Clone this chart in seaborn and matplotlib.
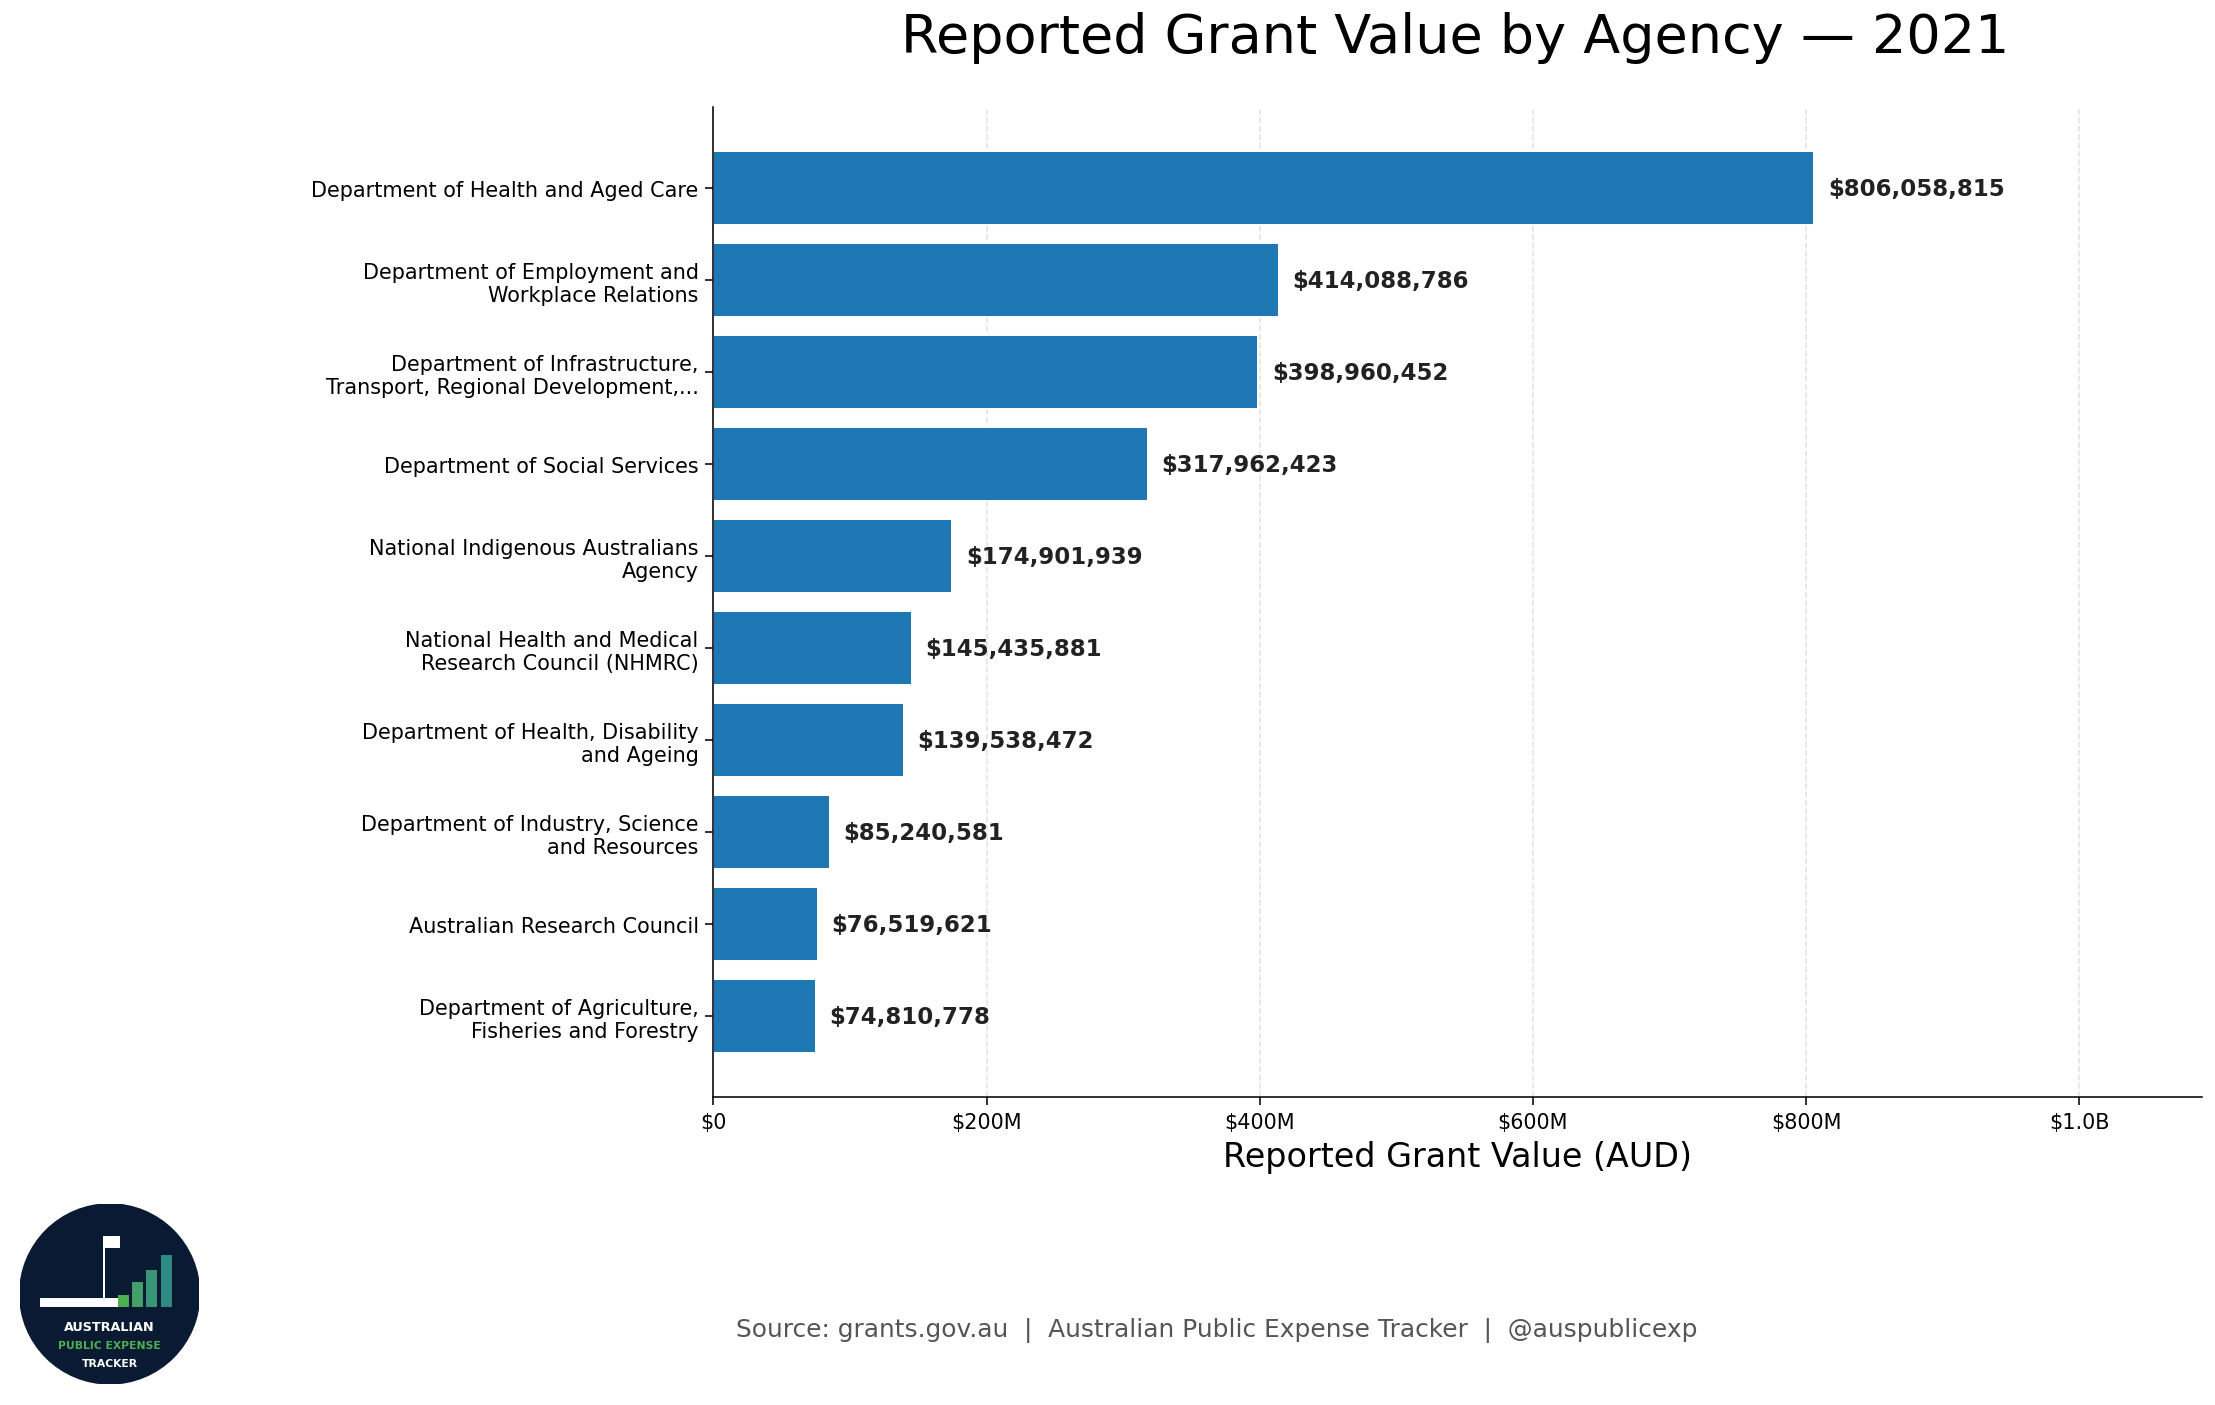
import matplotlib
matplotlib.use("Agg")
import matplotlib.pyplot as plt
import seaborn as sns
import pandas as pd
from matplotlib.patches import Circle, Rectangle

agencies = ["Department of Health and Aged Care",
            "Department of Employment and\nWorkplace Relations",
            "Department of Infrastructure,\nTransport, Regional Development,...",
            "Department of Social Services",
            "National Indigenous Australians\nAgency",
            "National Health and Medical\nResearch Council (NHMRC)",
            "Department of Health, Disability\nand Ageing",
            "Department of Industry, Science\nand Resources",
            "Australian Research Council",
            "Department of Agriculture,\nFisheries and Forestry"]
values = [806058815, 414088786, 398960452, 317962423, 174901939,
          145435881, 139538472, 85240581, 76519621, 74810778]
xticks = [0, 200e6, 400e6, 600e6, 800e6, 1e9]
xticklabels = ["$0", "$200M", "$400M", "$600M", "$800M", "$1.0B"]

sns.set_style("white")
plt.rcParams['font.family'] = ['DejaVu Sans']
plt.rcParams['text.color'] = 'black'
plt.rcParams['xtick.color'] = 'black'
plt.rcParams['ytick.color'] = 'black'
plt.rcParams['axes.labelcolor'] = 'black'
df = pd.DataFrame({"agency": agencies, "value": values})

fig = plt.figure(figsize=(15.68, 9.95), dpi=141.3)
ax = fig.add_axes([0.322, 0.219, 0.672, 0.704])
sns.barplot(data=df, y="agency", x="value", color="#1f77b4", saturation=1,
            width=0.8, ax=ax, zorder=3)
ax.set_xlim(0, 1.09e9)
ax.set_ylim(9.88, -0.88)
ax.set_xticks(xticks)
ax.set_xticklabels(xticklabels)
ax.grid(axis="x", linestyle="--", color="#e3e3e3", linewidth=0.8, zorder=0)
ax.set_axisbelow(True)
for s in ["top", "right"]:
    ax.spines[s].set_visible(False)
for s in ["left", "bottom"]:
    ax.spines[s].set_color("black")
    ax.spines[s].set_linewidth(0.8)
    ax.spines[s].set_zorder(5)
ax.tick_params(axis="both", which="both", length=4, color="black", labelsize=10.6, left=True, bottom=True)
ax.set_ylabel("")
ax.set_xlabel("Reported Grant Value (AUD)", fontsize=17)
for i, v in enumerate(values):
    ax.text(v + 1.0e7, i, f"${v:,.0f}", va="center", ha="left",
            fontsize=11.7, fontweight="bold", color="#222222")
fig.text(0.657, 0.973, "Reported Grant Value by Agency — 2021", ha="center", va="center", fontsize=27.5)
fig.text(0.549, 0.054, "Source: grants.gov.au  |  Australian Public Expense Tracker  |  @auspublicexp",
         ha="center", va="center", fontsize=12.7, color="#555555")

# logo
lax = fig.add_axes([0.009, 0.015, 0.081, 0.128])
lax.set_xlim(0, 1); lax.set_ylim(0, 1); lax.set_aspect("equal"); lax.axis("off")
lax.add_patch(Circle((0.5, 0.5), 0.5, color="#0b1a33"))
for j, (h, c) in enumerate(zip([0.06, 0.13, 0.2, 0.28], ["#4caf50", "#43a06a", "#3a9478", "#2e8b84"])):
    lax.add_patch(Rectangle((0.55 + j * 0.08, 0.43), 0.05, h, color=c))
lax.add_patch(Rectangle((0.12, 0.43), 0.42, 0.04, color="white"))
lax.plot([0.47, 0.47], [0.47, 0.82], color="white", lw=1)
lax.add_patch(Rectangle((0.47, 0.76), 0.08, 0.06, color="white"))
lax.text(0.5, 0.3, "AUSTRALIAN", ha="center", color="white", fontsize=6.5, fontweight="bold")
lax.text(0.5, 0.2, "PUBLIC EXPENSE", ha="center", color="#4caf50", fontsize=5.5, fontweight="bold")
lax.text(0.5, 0.1, "TRACKER", ha="center", color="white", fontsize=5.5, fontweight="bold")

fig.savefig("out.png", dpi=141.3)
